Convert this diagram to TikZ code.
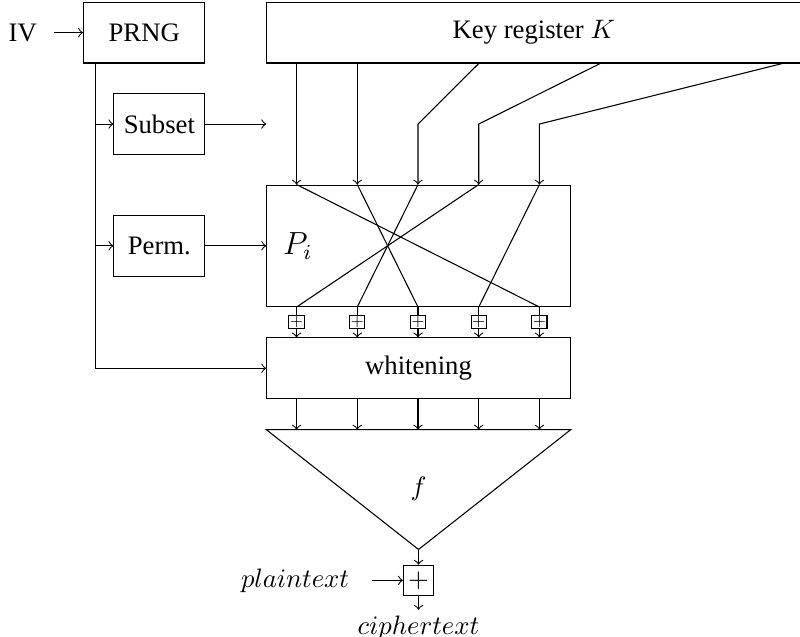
\documentclass[tikz,border=0pt]{standalone}
\usepackage[no-math]{fontspec}
\setmainfont{Liberation Serif}
\usepackage{tikz}
\usetikzlibrary{arrows}
\usetikzlibrary{positioning}
\tikzstyle{block} = [rectangle, draw,
    text centered, minimum height=0.8cm]
\tikzstyle{xorsmall} = [rectangle, draw, inner sep=0pt,
    minimum width=0.2cm, minimum height=0.18cm, font=\tiny]
\tikzstyle{xorbig} = [rectangle, draw, inner sep=0pt, minimum size=0.4cm]
\tikzstyle{line} = [draw, ->]
\tikzstyle{wire} = [draw]

\begin{document}
\begin{tikzpicture}[node distance = 0.8cm, auto]
    \useasboundingbox (0,0) rectangle (10.54,-8.39);
    % Place nodes
    \node [block, minimum width=1.6cm] (prng) at (1.9,-0.43) {PRNG};
    \node [left=0.38cm of prng, inner xsep=0.22cm] (iv) {IV};
    \node [block, minimum width=7.04cm, right=of prng] (key) {Key register $K$};
    \node [block, minimum width=1.2cm, below left=0.39cm and 0cm of prng.south east] (subset) {Subset};
    \node [block, minimum width=1.2cm, below=0.79cm of subset] (perm) {Perm.};
    \node [block, minimum width=4cm, minimum height=1.6cm, right=of perm] (pbox) {};
    \node [right=0.1cm of pbox.west] (plabel) {\large $P_i$};
    \node [block, minimum width=4cm, below=0.4cm of pbox] (whitening) {whitening};

    \coordinate (in1) at ([xshift=0.4cm]pbox.north west);
    \coordinate (in2) at ([xshift=1.2cm]pbox.north west);
    \coordinate (in3) at ([xshift=2.0cm]pbox.north west);
    \coordinate (in4) at ([xshift=2.8cm]pbox.north west);
    \coordinate (in5) at ([xshift=3.6cm]pbox.north west);
    \coordinate (out1) at ([xshift=0.4cm]pbox.south west);
    \coordinate (out2) at ([xshift=1.2cm]pbox.south west);
    \coordinate (out3) at ([xshift=2.0cm]pbox.south west);
    \coordinate (out4) at ([xshift=2.8cm]pbox.south west);
    \coordinate (out5) at ([xshift=3.6cm]pbox.south west);

    \node [xorsmall, below=0.1cm of out1] (xs1) {$+$};
    \node [xorsmall, below=0.1cm of out2] (xs2) {$+$};
    \node [xorsmall, below=0.1cm of out3] (xs3) {$+$};
    \node [xorsmall, below=0.1cm of out4] (xs4) {$+$};
    \node [xorsmall, below=0.1cm of out5] (xs5) {$+$};

    \coordinate [below=0.4cm of whitening.south west] (tl);
    \coordinate [below=0.4cm of whitening.south east] (tr);
    \coordinate [below=1.98cm of whitening.south] (apex);
    \node (flabel) at ([yshift=-1.18cm]whitening.south) {$f$};
    \node [xorbig, below=0.2cm of apex] (xor) {$+$};
    \node [left=0.4cm of xor, inner xsep=0.3cm] (plain) {$plaintext$};
    \node [below=0.18cm of xor, inner ysep=0.07cm] (cipher) {$ciphertext$};

    \coordinate (subsetend) at (subset -| pbox.west);
    \coordinate (trunk) at ([xshift=0.17cm]prng.south west);

    % Draw edges
    \path [line] (iv) -- (prng);
    \path [line] ([xshift=0.4cm]key.south west) -- (in1);
    \path [line] ([xshift=1.2cm]key.south west) -- (in2);
    \path [line] ([xshift=2.8cm]key.south west) -- (in3 |- subset) -- (in3);
    \path [line] ([xshift=4.4cm]key.south west) -- (in4 |- subset) -- (in4);
    \path [line] ([xshift=6.8cm]key.south west) -- (in5 |- subset) -- (in5);

    \path [line] (subset) -- (subsetend);
    \path [line] (trunk) |- (whitening);
    \path [line] (trunk |- subset) -- (subset);
    \path [line] (trunk |- perm) -- (perm);
    \path [line] (perm) -- (pbox);

    \path [wire] (in1) -- (out5);
    \path [wire] (in2) -- (out3);
    \path [wire] (in3) -- (out2);
    \path [wire] (in4) -- (out1);
    \path [wire] (in5) -- (out4);

    \path [wire] (out1) -- (xs1);
    \path [wire] (out2) -- (xs2);
    \path [wire] (out3) -- (xs3);
    \path [wire] (out4) -- (xs4);
    \path [wire] (out5) -- (xs5);
    \path [line] (xs1) -- (xs1 |- whitening.north);
    \path [line] (xs2) -- (xs2 |- whitening.north);
    \path [line] (xs3) -- (xs3 |- whitening.north);
    \path [line] (xs4) -- (xs4 |- whitening.north);
    \path [line] (xs5) -- (xs5 |- whitening.north);

    \path [line] (whitening.south -| in1) -- (tl -| in1);
    \path [line] (whitening.south -| in2) -- (tl -| in2);
    \path [line] (whitening.south -| in3) -- (tl -| in3);
    \path [line] (whitening.south -| in4) -- (tl -| in4);
    \path [line] (whitening.south -| in5) -- (tl -| in5);

    \draw (tl) -- (tr) -- (apex) -- cycle;
    \path [line] (apex) -- (xor);
    \path [line] (plain) -- (xor);
    \path [line] (xor) -- (cipher);
\end{tikzpicture}
\end{document}
